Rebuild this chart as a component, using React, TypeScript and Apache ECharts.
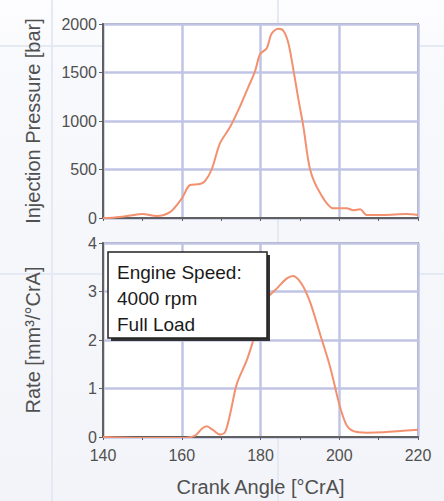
import React, { useEffect, useRef } from "react";
import * as echarts from "echarts";

const pressureAngle = [140, 143, 147, 150, 153.6, 157, 160, 162.1, 164.6, 165.9, 167.6, 169.7, 172.3, 174.8, 176.9, 178.6, 179.9, 181.6, 182.8, 184.5, 185.8, 187.1, 188.3, 189.6, 190.9, 192.6, 195.1, 198.5, 201.9, 203.6, 205.3, 207, 211.2, 217.1, 220];
const pressureBar = [0, 5, 25, 40, 20, 60, 200, 340, 350, 380, 500, 770, 940, 1150, 1350, 1510, 1690, 1750, 1900, 1950, 1930, 1800, 1540, 1230, 940, 500, 260, 100, 100, 80, 90, 30, 30, 40, 30];

const rateAngle = [140, 150, 160, 163.4, 165.1, 166.3, 168, 169.7, 171, 172.3, 174, 176.5, 178.2, 180, 181.9, 184.1, 186.7, 188.3, 190.5, 192.6, 195.1, 197.7, 200.2, 201.9, 203.6, 207, 211.2, 220];
const rateVal = [0, -0.02, -0.02, 0.03, 0.17, 0.22, 0.14, 0.05, 0.1, 0.48, 1.1, 1.58, 2.0, 2.45, 2.87, 3.06, 3.27, 3.32, 3.15, 2.78, 2.13, 1.44, 0.62, 0.24, 0.12, 0.09, 0.1, 0.15];

const xTicks = [140, 160, 180, 200, 220];
const annotationLines = ["Engine Speed:", "4000 rpm", "Full Load"];
const pressureName = "Injection Pressure [bar]";
const rateName = "Rate [mm³/°CrA]";
const xName = "Crank Angle [°CrA]";

const FONT = "'Liberation Sans', Arial, sans-serif";

export default function App() {
  const ref = useRef<HTMLDivElement>(null);
  useEffect(() => {
    if (!ref.current) return;
    const chart = echarts.init(ref.current, undefined, { renderer: "svg" });
    const gridLine = { show: true, lineStyle: { color: "#c0c4e4", width: 2.5 } };
    const axisLineStyle = { show: true, lineStyle: { color: "#606060", width: 2 } };
    const label = { color: "#505050", fontSize: 16, fontFamily: FONT };
    const xBase = (idx: number, showLabel: boolean) => ({
      type: "value",
      gridIndex: idx,
      min: 140,
      max: 220,
      interval: 20,
      axisLine: axisLineStyle,
      axisTick: { show: true, length: 3, lineStyle: { color: "#606060" } },
      minorTick: { show: true, splitNumber: 2, length: 3, lineStyle: { color: "#606060" } },
      splitLine: gridLine,
      axisLabel: showLabel
        ? { ...label, margin: 10, formatter: (v: number) => (xTicks.includes(v) ? String(v) : "") }
        : { show: false },
      name: showLabel ? xName : "",
      nameLocation: "middle",
      nameGap: 40,
      nameTextStyle: { color: "#505050", fontSize: 20, fontFamily: FONT },
    });
    chart.setOption({
      animation: false,
      backgroundColor: new echarts.graphic.LinearGradient(0, 0, 0, 1, [
        { offset: 0, color: "#fdfdff" },
        { offset: 0.15, color: "#f8f9fc" },
        { offset: 1, color: "#f3f4f9" },
      ]),
      graphic: [
        { type: "line", z: -10, shape: { x1: 52, y1: 0, x2: 52, y2: 501 }, style: { stroke: "#e4e9f4", lineWidth: 2 } },
        { type: "line", z: -10, shape: { x1: 278, y1: 0, x2: 278, y2: 501 }, style: { stroke: "#e4e9f4", lineWidth: 2 } },
        { type: "line", z: -10, shape: { x1: 0, y1: 46, x2: 444, y2: 46 }, style: { stroke: "#e4e9f4", lineWidth: 2 } },
        { type: "line", z: -10, shape: { x1: 0, y1: 274, x2: 444, y2: 274 }, style: { stroke: "#e4e9f4", lineWidth: 2 } },
        {
          type: "group",
          z: 100,
          children: [
            { type: "rect", z: 100, shape: { x: 111, y: 255, width: 159, height: 86 }, style: { fill: "#333" } },
            { type: "rect", z: 101, shape: { x: 108, y: 252, width: 159, height: 86 }, style: { fill: "#ffffff", stroke: "#222", lineWidth: 1.5 } },
            {
              type: "text",
              z: 102,
              x: 117,
              y: 259,
              style: { text: annotationLines.join("\n"), fontSize: 19, lineHeight: 26, fill: "#1a1a1a", fontFamily: FONT },
            },
          ],
        },
      ],
      grid: [
        { left: 103, top: 24, width: 315, height: 194, show: true, backgroundColor: "#ffffff", borderColor: "#9a9a9a", borderWidth: 2 },
        { left: 103, top: 243, width: 315, height: 194, show: true, backgroundColor: "#ffffff", borderColor: "#9a9a9a", borderWidth: 2 },
      ],
      xAxis: [xBase(0, false), xBase(1, true)],
      yAxis: [
        {
          type: "value",
          gridIndex: 0,
          min: 0,
          max: 2000,
          interval: 500,
          axisLine: axisLineStyle,
          axisTick: { show: true, length: 4, lineStyle: { color: "#606060" } },
          splitLine: gridLine,
          axisLabel: { ...label, margin: 6, formatter: (v: number) => String(v) },
          name: pressureName,
          nameLocation: "middle",
          nameGap: 60,
          nameTextStyle: { color: "#505050", fontSize: 20, fontFamily: FONT },
        },
        {
          type: "value",
          gridIndex: 1,
          min: 0,
          max: 4,
          interval: 1,
          axisLine: axisLineStyle,
          axisTick: { show: true, length: 4, lineStyle: { color: "#606060" } },
          splitLine: gridLine,
          axisLabel: { ...label, margin: 6, formatter: (v: number) => String(v) },
          name: rateName,
          nameLocation: "middle",
          nameGap: 60,
          nameTextStyle: { color: "#505050", fontSize: 20, fontFamily: FONT },
        },
      ],
      series: [
        {
          type: "line",
          xAxisIndex: 0,
          yAxisIndex: 0,
          data: pressureAngle.map((a, i) => [a, pressureBar[i]]),
          showSymbol: false,
          smooth: 0.3,
          lineStyle: { color: "#f3906f", width: 2 },
        },
        {
          type: "line",
          xAxisIndex: 1,
          yAxisIndex: 1,
          data: rateAngle.map((a, i) => [a, rateVal[i]]),
          showSymbol: false,
          smooth: 0.3,
          lineStyle: { color: "#f3906f", width: 2 },
        },
      ],
    });
    return () => chart.dispose();
  }, []);
  return <div ref={ref} style={{ position: "fixed", left: 0, top: 0, width: 444, height: 501 }} />;
}
